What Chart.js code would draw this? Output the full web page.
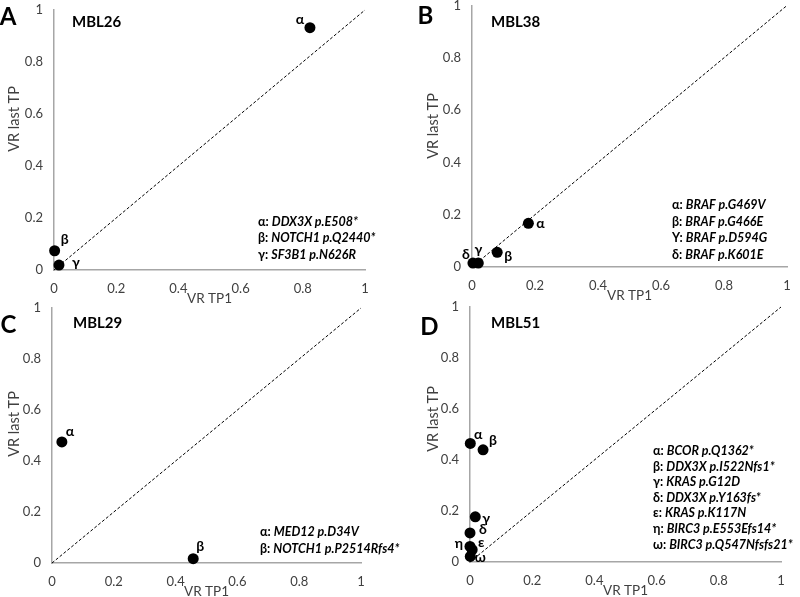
<!DOCTYPE html>
<html>
<head>
<meta charset="utf-8">
<script src="https://cdn.jsdelivr.net/npm/chart.js@4"></script>
<style>
  body{margin:0;background:#fff;width:800px;height:597px;overflow:hidden;position:relative}
  canvas{position:absolute}
</style>
</head>
<body>
<canvas id="pA" style="left:0;top:0"></canvas>
<canvas id="pB" style="left:400px;top:0"></canvas>
<canvas id="pC" style="left:0;top:300px"></canvas>
<canvas id="pD" style="left:400px;top:300px"></canvas>
<script>
/* ---------- DATA ---------- */
const tickVals = [0, 0.2, 0.4, 0.6, 0.8, 1];
const tickText = ["0", "0.2", "0.4", "0.6", "0.8", "1"];
const diagX = [0, 1];
const diagY = [0, 1];

// A: MBL26
const greekA = ["α", "β", "γ"];
const tp1A  = [0.823, 0.002, 0.016];
const lastA = [0.932, 0.074, 0.019];
const mutA  = ["DDX3X p.E508*", "NOTCH1 p.Q2440*", "SF3B1 p.N626R"];

// B: MBL38
const greekB = ["α", "β", "γ", "δ"];
const keyB   = ["α", "β", "Υ", "δ"];
const tp1B  = [0.179, 0.080, 0.020, 0.003];
const lastB = [0.167, 0.056, 0.015, 0.015];
const mutB  = ["BRAF p.G469V", "BRAF p.G466E", "BRAF p.D594G", "BRAF p.K601E"];

// C: MBL29
const greekC = ["α", "β"];
const tp1C  = [0.032, 0.457];
const lastC = [0.475, 0.017];
const mutC  = ["MED12 p.D34V", "NOTCH1 p.P2514Rfs4*"];

// D: MBL51
const greekD = ["α", "β", "γ", "δ", "ε", "η", "ω"];
const tp1D  = [0.001, 0.042, 0.017, 0.0, 0.007, 0.0, 0.001];
const lastD = [0.465, 0.440, 0.177, 0.114, 0.048, 0.061, 0.022];
const mutD  = ["BCOR p.Q1362*", "DDX3X p.I522Nfs1*", "KRAS p.G12D", "DDX3X p.Y163fs*",
               "KRAS p.K117N", "BIRC3 p.E553Efs14*", "BIRC3 p.Q547Nfsfs21*"];

/* ---------- STYLE ---------- */
const FONT = "Lato, 'Open Sans', sans-serif";
const INK = "#404040";
const AXIS = "#a6a6a6";

/* ---------- TEXT PLUGIN ---------- */
function panelText(p){
  return {
    id: "panelText",
    afterDatasetsDraw(chart){
      const ctx = chart.ctx, a = chart.chartArea;
      ctx.save();
      ctx.fillStyle = "#000";
      ctx.textBaseline = "middle";

      // point labels
      ctx.font = `bold 14px ${FONT}`;
      ctx.textAlign = "center";
      chart.getDatasetMeta(1).data.forEach((pt, i) => {
        const o = p.offsets[i];
        ctx.fillText(p.greek[i], pt.x + o[0], pt.y + o[1]);
      });

      // panel letter + sample name
      ctx.font = `bold 24px ${FONT}`;
      ctx.fillText(p.letter, p.letterXY[0], p.letterXY[1]);
      ctx.textAlign = "left";
      ctx.font = `bold 15px ${FONT}`;
      ctx.fillText(p.title, p.titleXY[0], p.titleXY[1]);

      // mutation key
      p.muts.forEach((m, i) => {
        const x = p.notesXY[0], y = p.notesXY[1] + i * p.noteStep;
        const k = p.keys[i] + ": ";
        ctx.font = `bold 12.5px ${FONT}`;
        ctx.fillText(k, x, y);
        const w = ctx.measureText(k).width;
        ctx.font = `italic bold 12.5px ${FONT}`;
        ctx.fillText(m, x + w, y);
      });

      // axis titles
      ctx.fillStyle = INK;
      ctx.font = `13.5px ${FONT}`;
      ctx.textAlign = "center";
      ctx.fillText("VR TP1", (a.left + a.right) / 2, a.bottom + 29);
      ctx.translate(p.yTitleXY[0], p.yTitleXY[1]);
      ctx.rotate(-Math.PI / 2);
      ctx.font = `14.5px ${FONT}`;
      ctx.fillText("VR last TP", 0, 0);
      ctx.restore();
    }
  };
}

/* ---------- CHART ---------- */
function makePanel(id, p){
  const cv = document.getElementById(id);
  cv.width = p.w; cv.height = p.h;
  const a = p.area;
  const tickOpts = {
    color: INK, font: {family: FONT, size: 13}, autoSkip: false, maxRotation: 0,
    callback: (v, i) => tickText[i]
  };
  new Chart(cv, {
    data: {
      datasets: [
        { type: "line", data: diagX.map((x, i) => ({x, y: diagY[i]})),
          borderColor: "#000", borderWidth: 1, borderDash: [3, 2],
          pointRadius: 0, order: 2, clip: false },
        { type: "scatter", data: p.x.map((x, i) => ({x, y: p.y[i]})),
          backgroundColor: "#000", borderWidth: 0, pointRadius: 5.5,
          pointHoverRadius: 5.5, order: 1, clip: false }
      ]
    },
    options: {
      responsive: false, animation: false, events: [],
      layout: {padding: {left: 0, top: a.t, right: p.w - a.r, bottom: 0}},
      plugins: {legend: {display: false}, tooltip: {enabled: false}},
      scales: {
        x: {
          type: "linear", min: 0, max: 1,
          grid: {display: false, drawTicks: false},
          border: {color: AXIS, width: 1.5},
          ticks: {...tickOpts, padding: 11},
          afterBuildTicks: s => { s.ticks = tickVals.map(v => ({value: v})); },
          afterFit: s => { s.height = p.h - a.b; s.paddingLeft = 0; s.paddingRight = 0; }
        },
        y: {
          type: "linear", min: 0, max: 1,
          grid: {display: false, drawTicks: false},
          border: {color: AXIS, width: 1.5},
          ticks: {...tickOpts, padding: 11},
          afterBuildTicks: s => { s.ticks = tickVals.map(v => ({value: v})); },
          afterFit: s => { s.width = a.l; s.paddingTop = 0; s.paddingBottom = 0; }
        }
      }
    },
    plugins: [panelText(p)]
  });
}

makePanel("pA", {
  w: 400, h: 310, area: {l: 54, r: 365, t: 10, b: 270},
  x: tp1A, y: lastA, greek: greekA, keys: greekA, muts: mutA,
  letter: "A", letterXY: [8, 17], title: "MBL26", titleXY: [72, 22],
  notesXY: [258, 222], noteStep: 16.3, yTitleXY: [14, 119],
  offsets: [[-10, -8], [10, -11], [17, -3]]
});
makePanel("pB", {
  w: 400, h: 310, area: {l: 72, r: 387, t: 5, b: 267},
  x: tp1B, y: lastB, greek: greekB, keys: keyB, muts: mutB,
  letter: "B", letterXY: [25.5, 16], title: "MBL38", titleXY: [91, 22],
  notesXY: [272, 205], noteStep: 16.7, yTitleXY: [33, 126],
  offsets: [[12, 0], [11, 4], [0, -14], [-7, -9]]
});
makePanel("pC", {
  w: 420, h: 297, area: {l: 52, r: 361, t: 8, b: 263},
  x: tp1C, y: lastC, greek: greekC, keys: greekC, muts: mutC,
  letter: "C", letterXY: [8.5, 25], title: "MBL29", titleXY: [73, 23],
  notesXY: [260, 232], noteStep: 16.6, yTitleXY: [14, 124],
  offsets: [[8, -10], [7, -12]]
});
makePanel("pD", {
  w: 400, h: 297, area: {l: 70, r: 381, t: 7, b: 262},
  x: tp1D, y: lastD, greek: greekD, keys: greekD, muts: mutD,
  letter: "D", letterXY: [29.5, 27], title: "MBL51", titleXY: [91, 23],
  notesXY: [253, 151], noteStep: 15.6, yTitleXY: [33, 119],
  offsets: [[8, -9], [10, -9], [11, 2], [13, -3], [9, -7], [-11, -3], [10, 1]]
});
</script>
</body>
</html>
